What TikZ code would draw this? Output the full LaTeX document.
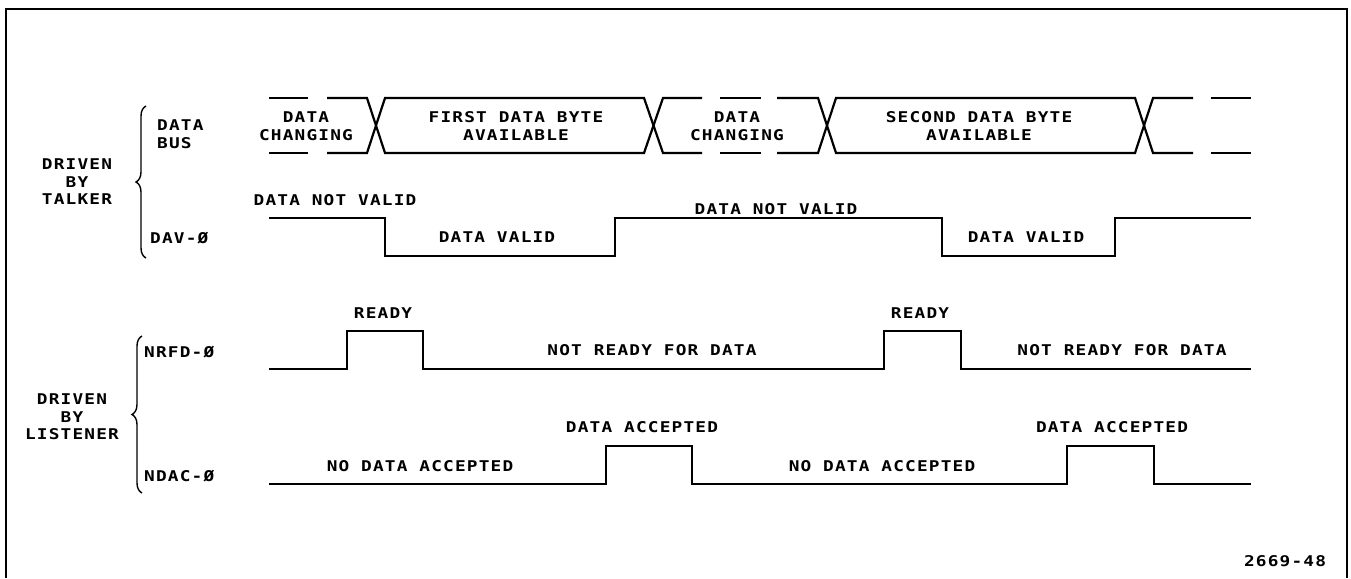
\documentclass[tikz,border=0pt]{standalone}
\usepackage{fontspec}
\newfontfamily\plotfont[LetterSpace=8,FakeStretch=1.2]{DejaVu Sans Mono}
\usetikzlibrary{decorations.pathreplacing}
\begin{document}
\begin{tikzpicture}[x=1pt,y=-1pt,
  sig/.style={line width=2.2pt, line cap=butt, line join=miter},
  lbl/.style={font=\plotfont\bfseries\fontsize{14.8}{17.5}\selectfont, inner sep=0pt, align=center},
  lbll/.style={lbl, align=left, anchor=west},
  bracestyle/.style={line width=1.4pt, decorate, decoration={brace, amplitude=10pt}}]
\useasboundingbox (0,0) rectangle (1351,578);
% frame
\draw[line width=2.5pt] (6,578) -- (6,9) -- (1347,9) -- (1347,578);

% DATA BUS
\draw[sig] (269,98) -- (308,98);
\draw[sig] (269,153) -- (308,153);
\draw[sig] (327,98) -- (367,98) -- (385,153) -- (644,153) -- (663,98) -- (702,98);
\draw[sig] (327,153) -- (367,153) -- (385,98) -- (644,98) -- (663,153) -- (702,153);
\draw[sig] (720,98) -- (761,98);
\draw[sig] (720,153) -- (761,153);
\draw[sig] (777,98) -- (818,98) -- (836,153) -- (1135,153) -- (1153,98) -- (1193,98);
\draw[sig] (777,153) -- (818,153) -- (836,98) -- (1135,98) -- (1153,153) -- (1193,153);
\draw[sig] (1211,98) -- (1251,98);
\draw[sig] (1211,153) -- (1251,153);

% DAV
\draw[sig] (269,218) -- (385,218) -- (385,256) -- (615,256) -- (615,218) -- (942,218) -- (942,256) -- (1115,256) -- (1115,218) -- (1251,218);
% NRFD
\draw[sig] (269,369) -- (347,369) -- (347,331) -- (423,331) -- (423,369) -- (884,369) -- (884,331) -- (961,331) -- (961,369) -- (1251,369);
% NDAC
\draw[sig] (269,484) -- (606,484) -- (606,446) -- (692,446) -- (692,484) -- (1067,484) -- (1067,446) -- (1154,446) -- (1154,484) -- (1251,484);

% braces
\draw[bracestyle] (146,258) -- (146,106);
\draw[bracestyle] (142,493) -- (142,336);

% left labels
\node[lbl] (talker) at (77,182) {DRIVEN\\BY\\TALKER};
\node[lbl] (listener) at (72,417) {DRIVEN\\BY\\LISTENER};
\node[lbll] (databus) at (157,134) {DATA\\BUS};
\node[lbll] (dav) at (150,238) {DAV-Ø};
\node[lbll] (nrfd) at (144,352) {NRFD-Ø};
\node[lbll] (ndac) at (144,476) {NDAC-Ø};

% data bus labels
\node[lbl] (dc1) at (306,126) {DATA\\CHANGING};
\node[lbl] (fdb) at (516,126) {FIRST DATA BYTE\\AVAILABLE};
\node[lbl] (dc2) at (737,126) {DATA\\CHANGING};
\node[lbl] (sdb) at (979,126) {SECOND DATA BYTE\\AVAILABLE};

% DAV labels
\node[lbl] (dnv1) at (335,200) {DATA NOT VALID};
\node[lbl] (dv1) at (497,237) {DATA VALID};
\node[lbl] (dnv2) at (776,209) {DATA NOT VALID};
\node[lbl] (dv2) at (1026,237) {DATA VALID};

% NRFD labels
\node[lbl] (rdy1) at (383,313) {READY};
\node[lbl] (nrd1) at (652,350) {NOT READY FOR DATA};
\node[lbl] (rdy2) at (920,313) {READY};
\node[lbl] (nrd2) at (1122,350) {NOT READY FOR DATA};

% NDAC labels
\node[lbl] (nda1) at (420,466) {NO DATA ACCEPTED};
\node[lbl] (da1) at (642,427) {DATA ACCEPTED};
\node[lbl] (nda2) at (882,466) {NO DATA ACCEPTED};
\node[lbl] (da2) at (1112,427) {DATA ACCEPTED};

\node[lbl] (fig) at (1285,561) {2669-48};
\end{tikzpicture}
\end{document}
